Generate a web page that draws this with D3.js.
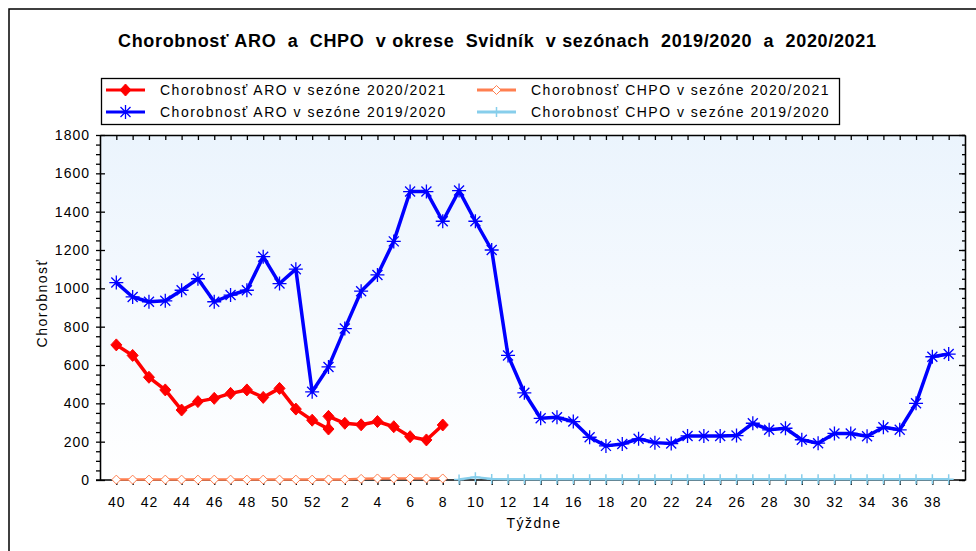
<!DOCTYPE html>
<html>
<head>
<meta charset="utf-8">
<script src="https://cdn.jsdelivr.net/npm/d3@7"></script>
<style>
  body { margin: 0; background: #fff; }
  text { font-family: "Liberation Sans", Arial, sans-serif; }
</style>
</head>
<body>
<div id="chart"></div>
<script>
// weeks of the season (x categories)
const weeks = [40, 41, 42, 43, 44, 45, 46, 47, 48, 49, 50, 51, 52,
  1, 2, 3, 4, 5, 6, 7, 8, 9, 10, 11, 12, 13, 14, 15, 16, 17, 18, 19, 20,
  21, 22, 23, 24, 25, 26, 27, 28, 29, 30, 31, 32, 33, 34, 35, 36, 37, 38, 39];

// ARO 2019/2020, one value per week above
const aro1920 = [1030, 955, 930, 935, 990, 1050, 930, 965, 990, 1165, 1025, 1100, 460,
  590, 790, 985, 1070, 1245, 1505, 1505, 1350, 1510, 1350, 1200, 650, 455, 322, 327, 305,
  223, 178, 188, 215, 195, 190, 230, 230, 230, 232, 296, 262, 270, 210, 192, 243, 243,
  228, 275, 262, 400, 643, 657];

// season 2020/2021 has a week 53
const weeks2021 = [40, 41, 42, 43, 44, 45, 46, 47, 48, 49, 50, 51, 52, 53, 1, 2, 3, 4, 5, 6, 7, 8];
const aro2021 = [705, 650, 536, 470, 365, 409, 426, 452, 470, 431, 478, 370, 312, 266,
  332, 296, 288, 305, 278, 226, 209, 287];
const chpo2021 = [2, 2, 2, 2, 2, 2, 2, 2, 2, 2, 2, 2, 2, 2, 3, 3, 6, 8, 8, 8, 8, 8];

const weeksChpo1920 = [9, 10, 11, 12, 13, 14, 15, 16, 17, 18, 19, 20, 21, 22, 23, 24, 25,
  26, 27, 28, 29, 30, 31, 32, 33, 34, 35, 36, 37, 38, 39];
const chpo1920 = [3, 15, 5, 4, 4, 4, 4, 4, 4, 4, 4, 4, 4, 4, 4, 4, 4, 4, 4, 4, 4, 4, 4,
  4, 4, 4, 4, 4, 4, 4, 4];

const yTicks = [0, 200, 400, 600, 800, 1000, 1200, 1400, 1600, 1800];

const title = "Chorobnosť ARO  a  CHPO  v okrese  Svidník  v sezónach  2019/2020  a  2020/2021";
const legendItems = [
  { name: "Chorobnosť ARO v sezóne 2020/2021", color: "#ff0000", marker: "diamond" },
  { name: "Chorobnosť ARO v sezóne 2019/2020", color: "#0000ff", marker: "asterisk" },
  { name: "Chorobnosť CHPO v sezóne 2020/2021", color: "#ff7f50", marker: "hollow" },
  { name: "Chorobnosť CHPO v sezóne 2019/2020", color: "#87ceeb", marker: "plus" }
];

const W = 976, H = 551;
const margin = { top: 135, right: 11, bottom: 71, left: 100 };
const width = W - margin.left - margin.right;
const height = H - margin.top - margin.bottom;
const LS = "1.5px";

const svg = d3.select("#chart")
  .append("svg")
  .attr("width", W)
  .attr("height", H);

svg.append("rect")
  .attr("x", 9)
  .attr("y", 9)
  .attr("width", W)
  .attr("height", H)
  .attr("fill", "none")
  .attr("stroke", "#000")
  .attr("stroke-width", 1.5);

const grad = svg.append("defs").append("linearGradient")
  .attr("id", "bg")
  .attr("x1", 0).attr("y1", 0).attr("x2", 0).attr("y2", 1);
grad.append("stop").attr("offset", "0%").attr("stop-color", "#ebf4fd");
grad.append("stop").attr("offset", "100%").attr("stop-color", "#ffffff");

svg.append("text")
  .attr("x", 118)
  .attr("y", 47)
  .attr("font-size", "18px")
  .attr("font-weight", "bold")
  .attr("textLength", 758)
  .attr("lengthAdjust", "spacing")
  .style("white-space", "pre")
  .text(title);

const g = svg.append("g")
  .attr("transform", `translate(${margin.left}, ${margin.top})`);

const x = d3.scaleLinear()
  .domain([-1, weeks.length])
  .range([0, width]);

const y = d3.scaleLinear()
  .domain([0, 1800])
  .range([height, 0]);

const xi = w => x(weeks.indexOf(w === 53 ? 1 : w));

g.append("rect")
  .attr("width", width)
  .attr("height", height)
  .attr("fill", "url(#bg)");

// markers
function markerPath(type) {
  if (type === "asterisk") {
    const r = 7, d = 5;
    return `M0,${-r}V${r}M${-r},0H${r}M${-d},${-d}L${d},${d}M${-d},${d}L${d},${-d}`;
  }
  if (type === "diamond") return "M0,-6L5.5,0L0,6L-5.5,0Z";
  if (type === "hollow") return "M0,-4.5L4.5,0L0,4.5L-4.5,0Z";
  return "M0,-5V5M-5,0H5";
}

function styleMarker(sel, item) {
  if (item.marker === "diamond") sel.attr("fill", item.color).attr("stroke", item.color).attr("stroke-width", 1);
  else if (item.marker === "hollow") sel.attr("fill", "#fff").attr("stroke", item.color).attr("stroke-width", 1);
  else sel.attr("fill", "none").attr("stroke", item.color).attr("stroke-width", item.marker === "plus" ? 1.5 : 1.3);
}

// axes
const xBottom = d3.axisBottom(x)
  .tickValues(d3.range(weeks.length))
  .tickSize(5)
  .tickSizeOuter(0)
  .tickPadding(12)
  .tickFormat(i => i % 2 === 0 ? weeks[i] : "");

const xTop = d3.axisBottom(x)
  .tickValues(d3.range(weeks.length))
  .tickSize(5)
  .tickSizeOuter(0)
  .tickFormat("");

const yMinor = d3.axisLeft(y).tickValues(d3.range(0, 1801, 50)).tickSize(4).tickSizeOuter(0).tickFormat("");
const yLeft = d3.axisLeft(y).tickValues(yTicks).tickSize(5).tickSizeOuter(0).tickPadding(5).tickFormat(d3.format("d"));
const yRightMinor = d3.axisRight(y).tickValues(d3.range(0, 1801, 50)).tickSize(-3).tickSizeOuter(0).tickFormat("");
const yRight = d3.axisRight(y).tickValues(yTicks).tickSize(-6).tickSizeOuter(0).tickFormat("");

g.append("g").call(yMinor);
const yg = g.append("g").call(yLeft);
yg.selectAll(".tick line").attr("x2", 5);
g.append("g").attr("transform", `translate(${width}, 0)`).call(yRightMinor);
g.append("g").attr("transform", `translate(${width}, 0)`).call(yRight);
g.append("g").call(xTop);
const xg = g.append("g").attr("transform", `translate(0, ${height})`).call(xBottom);
xg.select(".domain").attr("d", `M-4,0H${width}`);

g.selectAll(".domain, .tick line").attr("stroke", "#000").attr("stroke-width", 1.3);
g.selectAll(".tick text")
  .attr("font-size", "14px")
  .attr("font-family", "'Liberation Sans', Arial, sans-serif")
  .attr("letter-spacing", "1px")
  .attr("fill", "#000");

// axis titles
g.append("text")
  .attr("transform", "rotate(-90)")
  .attr("x", -168)
  .attr("y", -53)
  .attr("text-anchor", "middle")
  .attr("font-size", "14px")
  .attr("letter-spacing", LS)
  .text("Chorobnosť");

g.append("text")
  .attr("x", 434)
  .attr("y", 393)
  .attr("text-anchor", "middle")
  .attr("font-size", "14px")
  .attr("letter-spacing", LS)
  .text("Týždne");

// series
const series = [
  { item: legendItems[3], pts: weeksChpo1920.map((w, i) => ({ x: xi(w), v: chpo1920[i] })), lw: 2.5 },
  { item: legendItems[2], pts: weeks2021.map((w, i) => ({ x: xi(w), v: chpo2021[i] })), lw: 2.5 },
  { item: legendItems[1], pts: weeks.map((w, i) => ({ x: xi(w), v: aro1920[i] })), lw: 3.5 },
  { item: legendItems[0], pts: weeks2021.map((w, i) => ({ x: xi(w), v: aro2021[i] })), lw: 3.5 }
];

const line = d3.line().x(d => d.x).y(d => y(d.v));

series.forEach(s => {
  g.append("path")
    .datum(s.pts)
    .attr("d", line)
    .attr("fill", "none")
    .attr("stroke", s.item.color)
    .attr("stroke-width", s.lw)
    .attr("stroke-linejoin", "round");

  g.selectAll(null)
    .data(s.pts)
    .enter()
    .append("path")
    .attr("transform", d => `translate(${d.x}, ${y(d.v)})`)
    .attr("d", markerPath(s.item.marker))
    .call(sel => styleMarker(sel, s.item));
});

// legend
const legend = svg.append("g");
legend.append("rect")
  .attr("x", 101.5)
  .attr("y", 78.5)
  .attr("width", 738)
  .attr("height", 46)
  .attr("fill", "#fff")
  .attr("stroke", "#000")
  .attr("stroke-width", 1.3);

legendItems.forEach((it, i) => {
  const col = Math.floor(i / 2), row = i % 2;
  const lx = col === 0 ? 106 : 477;
  const ly = row === 0 ? 90 : 112;
  const r = legend.append("g").attr("transform", `translate(${lx}, ${ly})`);
  r.append("line")
    .attr("x1", 0).attr("x2", 39)
    .attr("stroke", it.color)
    .attr("stroke-width", 3);
  r.append("path")
    .attr("transform", "translate(19.5, 0)")
    .attr("d", markerPath(it.marker))
    .call(sel => styleMarker(sel, it));
  r.append("text")
    .attr("x", 54)
    .attr("y", 5)
    .attr("font-size", "14px")
    .attr("letter-spacing", LS)
    .text(it.name);
});
</script>
</body>
</html>
